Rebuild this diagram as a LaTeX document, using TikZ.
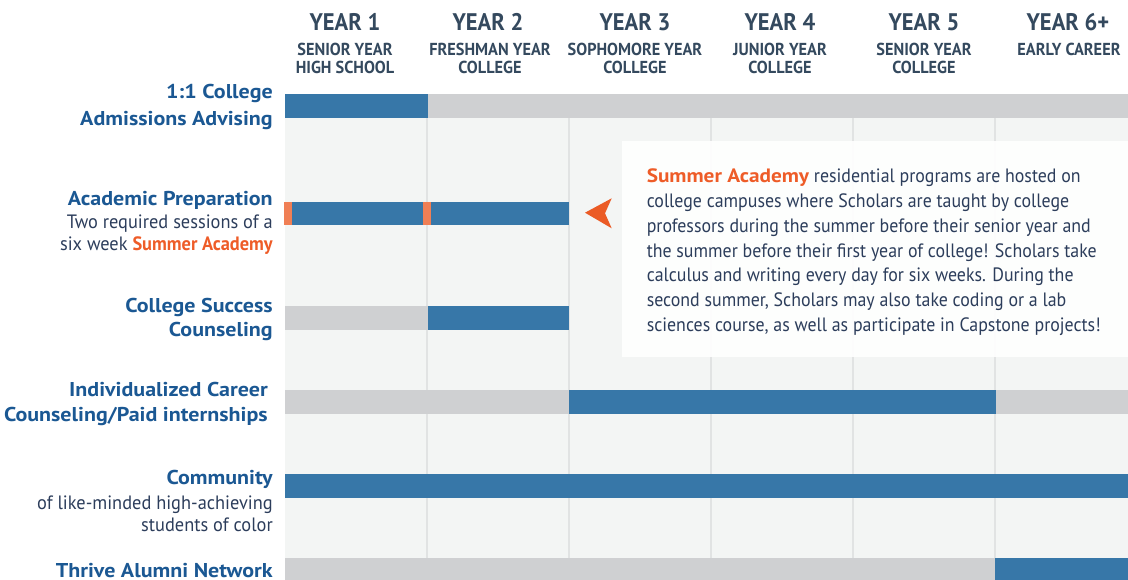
\documentclass[tikz,border=0pt]{standalone}
\usepackage{fontspec}
\setmainfont{PT Sans}
\newfontfamily\hdfont{PT Sans}[FakeStretch=0.94]
\newfontfamily\lblfont{PT Sans}[FakeStretch=1.1]
\newfontfamily\subfont{PT Sans}[FakeStretch=0.95]
\newfontfamily\boxfont{PT Sans}[FakeStretch=0.925]
\definecolor{hdr}{HTML}{34495E}
\definecolor{lblue}{HTML}{1B5893}
\definecolor{bodytxt}{HTML}{2C3D5B}
\definecolor{barblue}{HTML}{3777A8}
\definecolor{bargray}{HTML}{CFD0D2}
\definecolor{gridbg}{HTML}{F3F5F4}
\definecolor{gridln}{HTML}{E1E3E3}
\definecolor{orangetxt}{HTML}{EE5C28}
\definecolor{orangebar}{HTML}{F07F55}
\definecolor{arrowor}{HTML}{EB5B25}
\begin{document}
\begin{tikzpicture}[x=0.75pt,y=-0.75pt,
  yearhd/.style={font=\hdfont\bfseries\fontsize{18}{20}\selectfont, text=hdr, anchor=base, inner sep=0},
  yearsub/.style={font=\hdfont\bfseries\fontsize{13}{15}\selectfont, text=hdr, anchor=base, inner sep=0},
  lblhd/.style={font=\lblfont\bfseries\fontsize{15}{17}\selectfont, text=lblue, anchor=base east, inner sep=0},
  lblsub/.style={font=\subfont\fontsize{14.5}{17}\selectfont, text=bodytxt, anchor=base east, inner sep=0},
  boxln/.style={font=\boxfont\fontsize{14.5}{17}\selectfont, text=bodytxt, anchor=base west, inner sep=0},
  bluebar/.style={fill=barblue},
  graybar/.style={fill=bargray},
  orbar/.style={fill=orangebar},
  gline/.style={draw=gridln, line width=1.5pt},
]
\useasboundingbox (0,0) rectangle (1128,580);
% grid background
\fill[gridbg] (285,94) rectangle (1128,580);
\foreach \x in {427,569,711,853,995} \draw[gline] (\x,94) -- (\x,580);
% headers
\node[yearhd] (y1) at (345,31) {YEAR 1};
\node[yearhd] (y2) at (488,31) {YEAR 2};
\node[yearhd] (y3) at (635,31) {YEAR 3};
\node[yearhd] (y4) at (780,31) {YEAR 4};
\node[yearhd] (y5) at (924,31) {YEAR 5};
\node[yearhd] (y6) at (1068,31) {YEAR 6+};
\node[yearsub] (s1a) at (345,56) {SENIOR YEAR};
\node[yearsub] (s1b) at (345,73.5) {HIGH SCHOOL};
\node[yearsub] (s2a) at (490,56) {FRESHMAN YEAR};
\node[yearsub] (s2b) at (490,73.5) {COLLEGE};
\node[yearsub] (s3a) at (635,56) {SOPHOMORE YEAR};
\node[yearsub] (s3b) at (635,73.5) {COLLEGE};
\node[yearsub] (s4a) at (780,56) {JUNIOR YEAR};
\node[yearsub] (s4b) at (780,73.5) {COLLEGE};
\node[yearsub] (s5a) at (924,56) {SENIOR YEAR};
\node[yearsub] (s5b) at (924,73.5) {COLLEGE};
\node[yearsub] (s6a) at (1069,56) {EARLY CAREER};
% bars
\fill[bluebar] (285,94.5) rectangle (428,118.5);
\fill[graybar] (428,94.5) rectangle (1128,118.5);
\fill[orbar] (284,202) rectangle (291.5,225.5);
\fill[bluebar] (291.5,202) rectangle (422.5,225.5);
\fill[orbar] (422.5,202) rectangle (430.5,225.5);
\fill[bluebar] (430.5,202) rectangle (569,225.5);
\fill[graybar] (285,306.5) rectangle (428,330);
\fill[bluebar] (428,306.5) rectangle (569,330);
\fill[graybar] (285,390) rectangle (569,414);
\fill[bluebar] (569,390) rectangle (996,414);
\fill[graybar] (996,390) rectangle (1128,414);
\fill[bluebar] (285,474) rectangle (1128,498);
\fill[graybar] (285,558) rectangle (995,580);
\fill[bluebar] (995,558) rectangle (1128,580);
% pointer
\fill[arrowor] (585,212.7) -- (611.7,198.3) -- (605,213.3) -- (611.7,228.3) -- cycle;
% left labels
\node[lblhd] (l1a) at (273,99) {1:1 College};
\node[lblhd] (l1b) at (273,125.5) {Admissions Advising};
\node[lblhd] (l2a) at (273,206) {Academic Preparation};
\node[lblsub] (l2b) at (273,229) {Two required sessions of a};
\node[lblsub] (l2c) at (273,251) {six week \textbf{\color{orangetxt}Summer Academy}};
\node[lblhd] (l3a) at (273,313) {College Success};
\node[lblhd] (l3b) at (273,337) {Counseling};
\node[lblhd] (l4a) at (268,397) {Individualized Career};
\node[lblhd] (l4b) at (268,421.5) {Counseling/Paid internships};
\node[lblhd] (l5a) at (273,485) {Community};
\node[lblsub] (l5b) at (273,510) {of like-minded high-achieving};
\node[lblsub] (l5c) at (273,532) {students of color};
\node[lblhd] (l6a) at (273,577) {Thrive Alumni Network};
% info box
\fill[white, opacity=0.9] (622,141) rectangle (1128,357);
\node[boxln] (b1) at (646.5,182.7) {{\lblfont\bfseries\color{orangetxt}Summer Academy} residential programs are hosted on};
\node[boxln] (b2) at (646.5,207.5) {college campuses where Scholars are taught by college};
\node[boxln] (b3) at (646.5,232.3) {professors during the summer before their senior year and};
\node[boxln] (b4) at (646.5,257.2) {the summer before their first year of college! Scholars take};
\node[boxln] (b5) at (646.5,282) {calculus and writing every day for six weeks. During the};
\node[boxln] (b6) at (646.5,306.8) {second summer, Scholars may also take coding or a lab};
\node[boxln] (b7) at (646.5,331.7) {sciences course, as well as participate in Capstone projects!};
\end{tikzpicture}
\end{document}
